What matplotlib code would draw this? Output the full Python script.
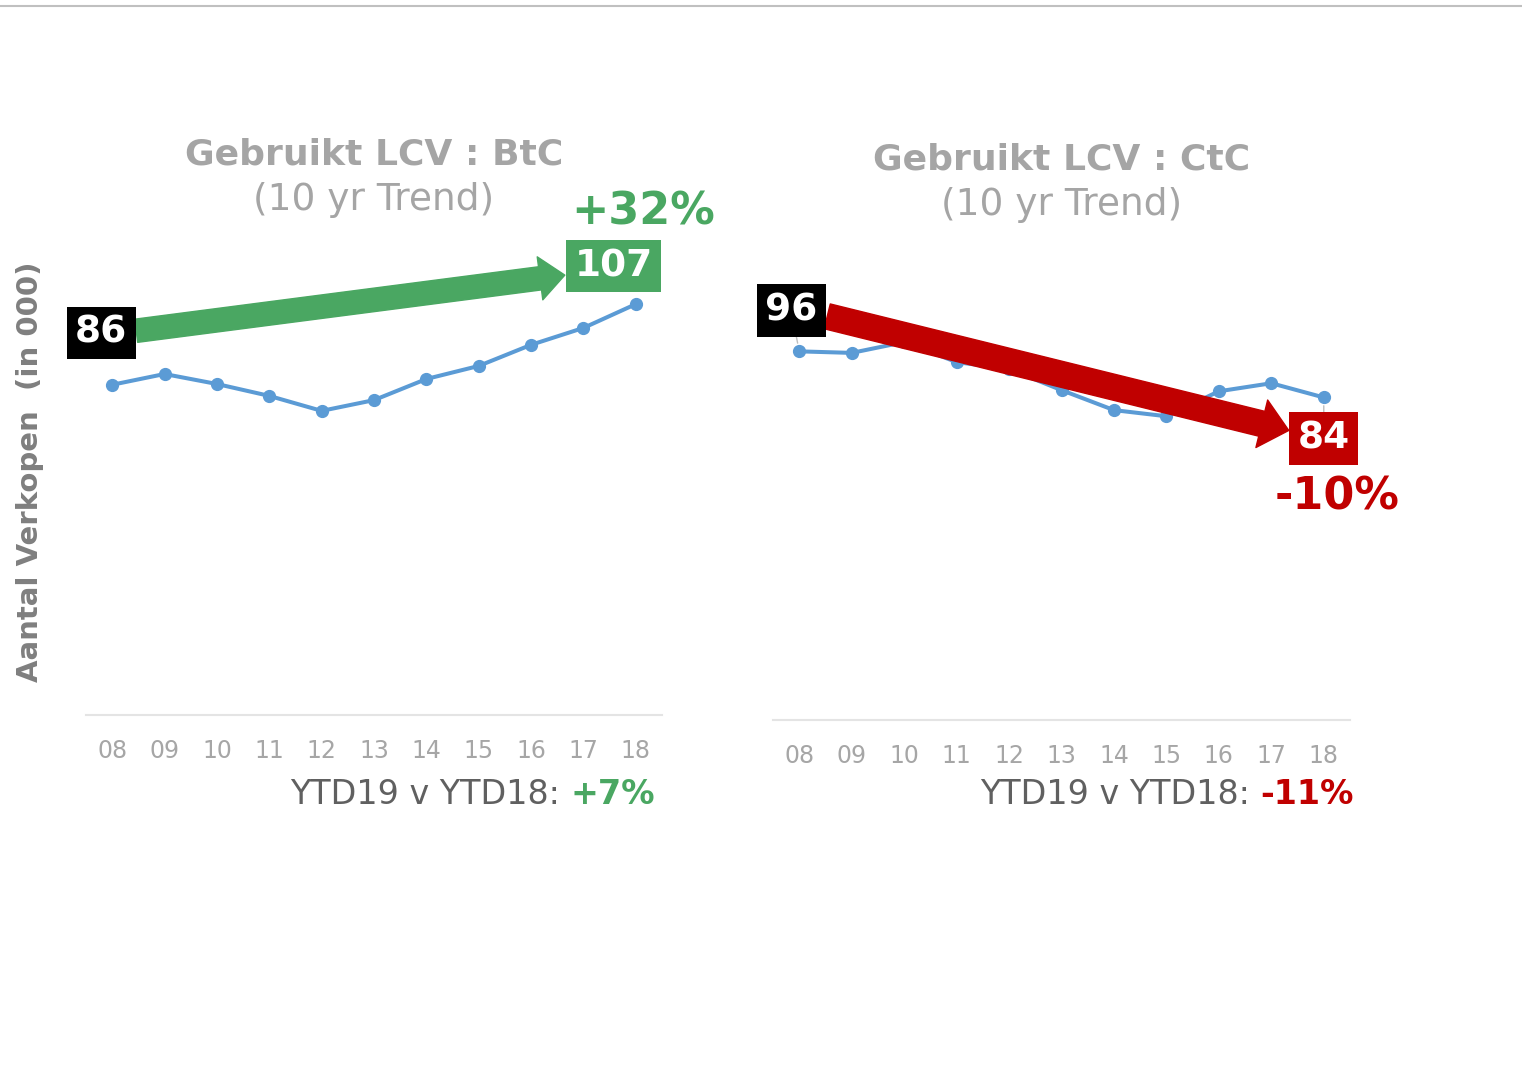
import matplotlib.pyplot as plt
from matplotlib.lines import Line2D
from matplotlib.transforms import offset_copy

plt.rcParams['font.family'] = ['DejaVu Sans']

# data (in 000)
years = ['08', '09', '10', '11', '12', '13', '14', '15', '16', '17', '18']
btc = [86, 88.8, 86.2, 83.1, 79.2, 82.0, 87.5, 90.9, 96.4, 100.8, 107]
ctc = [96, 95.6, 98.4, 93.2, 91.4, 85.9, 80.7, 79.1, 85.6, 87.7, 84]
btc_trend = '+32%'
ctc_trend = '-10%'
btc_ytd = '+7%'
ctc_ytd = '-11%'

GREEN = '#4AA762'
RED = '#C00000'
BLUE = '#5B9BD5'
W, H = 1522, 1069
AX_H = 537.6  # px for 0..140

fig = plt.figure(figsize=(W / 100, H / 100), dpi=100)


def make_axes(left, right, bottom):
    return fig.add_axes([left / W, (H - bottom) / H, (right - left) / W, AX_H / H])


def panel(ax, vals, title, color, trend, ytd, lab0, lab1, arr0, arr1, trend_off,
          arrow_style, leader, ytd_pos):
    n = len(vals)
    x = list(range(n))
    ax.plot(x, vals, color=BLUE, lw=2.9, marker='o', ms=8.5, zorder=2)
    ax.set_xlim(-0.5, n - 0.5)
    ax.set_ylim(0, 140)
    ax.set_xticks(x)
    ax.set_xticklabels(years)
    ax.tick_params(axis='x', length=0, pad=17, labelsize=17, labelcolor='#A6A6A6')
    ax.set_yticks([])
    for s in ['top', 'right', 'left']:
        ax.spines[s].set_visible(False)
    ax.spines['bottom'].set_color('#E4E4E4')
    ax.spines['bottom'].set_linewidth(1.5)

    ax.text(0.5, 1.042, title, transform=ax.transAxes, ha='center', va='center',
            fontsize=26, fontweight='bold', color='#A5A5A5')
    ax.text(0.5, 0.958, '(10 yr Trend)', transform=ax.transAxes, ha='center',
            va='center', fontsize=27, color='#A5A5A5')

    # trend arrow between first and last year
    start = offset_copy(ax.transData, fig=fig, x=arr0[0], y=arr0[1], units='dots')
    end = offset_copy(ax.transData, fig=fig, x=arr1[0], y=arr1[1], units='dots')
    ax.annotate('', xy=(n - 1, vals[-1]), xycoords=end,
                xytext=(0, vals[0]), textcoords=start,
                arrowprops=dict(arrowstyle=arrow_style, mutation_scale=40,
                                color=color, shrinkA=0, shrinkB=0), zorder=4)

    lead = dict(arrowstyle='-', color='#BFBFBF', lw=1, shrinkA=0, shrinkB=6) if leader else None
    ax.annotate(f'{vals[0]:.0f}', xy=(0, vals[0]), xytext=lab0, textcoords='offset pixels',
                ha='center', va='center', fontsize=27, fontweight='bold', color='white',
                bbox=dict(boxstyle='square,pad=0.22', fc='black', ec='none'),
                arrowprops=lead, zorder=5)
    ax.annotate(f'{vals[-1]:.0f}', xy=(n - 1, vals[-1]), xytext=lab1, textcoords='offset pixels',
                ha='center', va='center', fontsize=27, fontweight='bold', color='white',
                bbox=dict(boxstyle='square,pad=0.22', fc=color, ec='none'),
                arrowprops=lead, zorder=5)
    ax.annotate(trend, xy=(n - 1, vals[-1]), xytext=trend_off, textcoords='offset pixels',
                ha='center', va='center', fontsize=32, fontweight='bold', color=color)

    # YTD line, bold coloured part right aligned near the axis end
    t = ax.text(ytd_pos[0], ytd_pos[1], ytd, transform=ax.transAxes, ha='right', va='bottom',
                fontsize=24, fontweight='bold', color=color)
    ax.annotate('YTD19 v YTD18: ', xy=(0, 0), xycoords=t, ha='right', va='bottom',
                fontsize=24, color='#606060')


ax1 = make_axes(86, 662, 715)
ax2 = make_axes(773, 1350, 720)

panel(ax1, btc, 'Gebruikt LCV : BtC', GREEN, btc_trend, btc_ytd,
      lab0=(-11, 52), lab1=(-22, 38), arr0=(24, 54), arr1=(-71, 29), trend_off=(7, 92),
      arrow_style='simple,head_length=0.45,head_width=0.78,tail_width=0.42', leader=False,
      ytd_pos=(0.988, -0.178))
panel(ax2, ctc, 'Gebruikt LCV : CtC', RED, ctc_trend, ctc_ytd,
      lab0=(-8, 41), lab1=(0, -41), arr0=(28, 35), arr1=(-35, -33), trend_off=(13, -100),
      arrow_style='simple,head_length=0.5,head_width=0.88,tail_width=0.46', leader=True,
      ytd_pos=(1.007, -0.169))

fig.text(30 / W, 1 - 472 / H, 'Aantal Verkopen  (in 000)', rotation=90, ha='center',
         va='center', fontsize=21, fontweight='bold', color='#7F7F7F')

fig.add_artist(Line2D([0, 1], [1 - 6 / H, 1 - 6 / H], transform=fig.transFigure,
                      color='#C0C0C0', lw=1.5))

fig.savefig('out.png', dpi=100)
